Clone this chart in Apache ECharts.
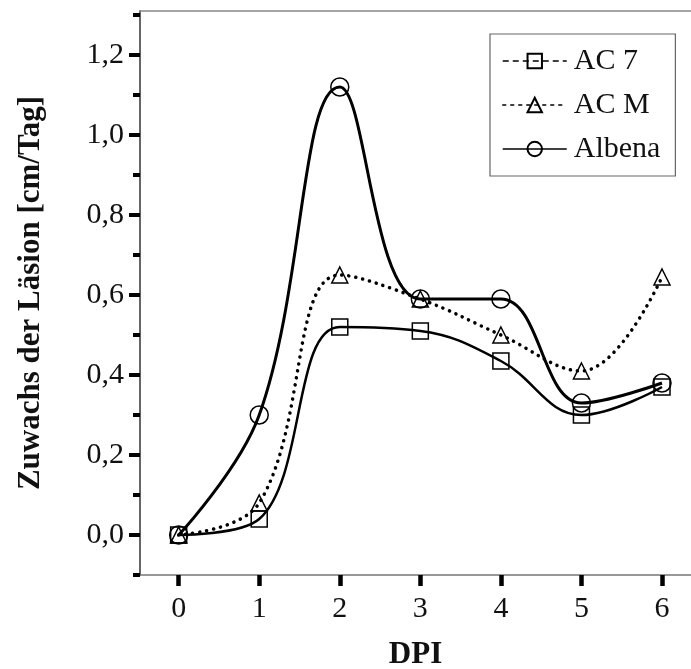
<!DOCTYPE html>
<html><head><meta charset="utf-8">
<script src="https://cdn.jsdelivr.net/npm/echarts@6/dist/echarts.min.js"></script>
<style>html,body{margin:0;padding:0;background:#fff}#c{width:691px;height:669px}</style>
</head><body><div id="c"></div>
<script>
const dpi = [0, 1, 2, 3, 4, 5, 6];
const ac7 = [0.00, 0.04, 0.52, 0.51, 0.435, 0.30, 0.37];
const acm = [0.00, 0.08, 0.65, 0.59, 0.50, 0.41, 0.645];
const albena = [0.00, 0.30, 1.12, 0.59, 0.59, 0.33, 0.38];
const yMajor = [0, 0.2, 0.4, 0.6, 0.8, 1.0, 1.2];
const yMinor = [-0.1, 0.1, 0.3, 0.5, 0.7, 0.9, 1.1, 1.3];
const xTicks = [0, 1, 2, 3, 4, 5, 6];

const FONT = '"Liberation Serif", "DejaVu Serif", serif';
const pairs = a => dpi.map((x, i) => [x, a[i]]);
const hollow = {color: 'rgba(0,0,0,0)', borderColor: '#000', borderWidth: 1.5};

const chart = echarts.init(document.getElementById('c'));
chart.setOption({
  animation: false,
  backgroundColor: '#fff',
  grid: {left: 140, top: 11, right: 0, bottom: 94, outerBoundsMode: 'none', containLabel: false},
  legend: {
    orient: 'vertical', left: 490, top: 34,
    padding: [12, 15, 12, 12],
    itemGap: 14, itemWidth: 64, itemHeight: 18,
    borderColor: '#666', borderWidth: 1.2,
    textStyle: {fontFamily: FONT, fontSize: 30, color: '#111', padding: [0, 0, 0, 2]},
    data: [
      {name: 'AC 7', lineStyle: {type: [6, 4], width: 1.5, color: '#000'}},
      {name: 'AC M', lineStyle: {type: [3, 5], width: 1.5, color: '#000'}},
      {name: 'Albena', lineStyle: {type: 'solid', width: 1.5, color: '#000'}}
    ]
  },
  xAxis: [{
    type: 'value', min: -0.48, max: 6.36,
    name: 'DPI', nameLocation: 'middle', nameGap: 64,
    nameTextStyle: {fontFamily: FONT, fontSize: 31, fontWeight: 'bold', color: '#111'},
    axisLine: {show: true, onZero: false, lineStyle: {color: '#777', width: 1.5}},
    axisTick: {show: true, customValues: xTicks, length: 11, lineStyle: {color: '#000', width: 4.5}},
    axisLabel: {customValues: xTicks, margin: 19, fontFamily: FONT, fontSize: 30, color: '#111'},
    splitLine: {show: false}
  }, {
    type: 'value', position: 'top', min: -0.48, max: 6.36,
    axisLine: {show: true, onZero: false, lineStyle: {color: '#888', width: 1.5}},
    axisTick: {show: false}, axisLabel: {show: false}, splitLine: {show: false}
  }],
  yAxis: [{
    type: 'value', min: -0.1, max: 1.31,
    name: 'Zuwachs der Läsion [cm/Tag]', nameLocation: 'middle', nameGap: 94,
    nameTextStyle: {fontFamily: FONT, fontSize: 31, fontWeight: 'bold', color: '#111'},
    axisLine: {show: true, onZero: false, lineStyle: {color: '#333', width: 1.5}},
    axisTick: {show: true, customValues: yMajor, length: 11, lineStyle: {color: '#000', width: 4}},
    axisLabel: {customValues: yMajor, margin: 16, fontFamily: FONT, fontSize: 30, color: '#111',
      formatter: v => v.toFixed(1).replace('.', ',')},
    splitLine: {show: false}
  }, {
    type: 'value', position: 'left', min: -0.1, max: 1.31,
    axisLine: {show: false, onZero: false},
    axisTick: {show: true, customValues: yMinor, length: 7, lineStyle: {color: '#000', width: 4}},
    axisLabel: {show: false}, splitLine: {show: false}
  }],
  series: [
    {name: 'AC 7', type: 'line', data: pairs(ac7), smooth: 0.4,
      symbol: 'rect', symbolSize: 16, itemStyle: hollow,
      lineStyle: {color: '#000', width: 2.5}, z: 3},
    {name: 'AC M', type: 'line', data: pairs(acm), smooth: 0.4,
      symbol: 'triangle', symbolSize: 16, itemStyle: hollow,
      lineStyle: {color: '#000', width: 3.5, type: [0.1, 7], cap: 'round'}, z: 3},
    {name: 'Albena', type: 'line', data: pairs(albena), smooth: 0.4,
      symbol: 'circle', symbolSize: 18, itemStyle: hollow,
      lineStyle: {color: '#000', width: 3}, z: 3}
  ]
});
</script></body></html>
